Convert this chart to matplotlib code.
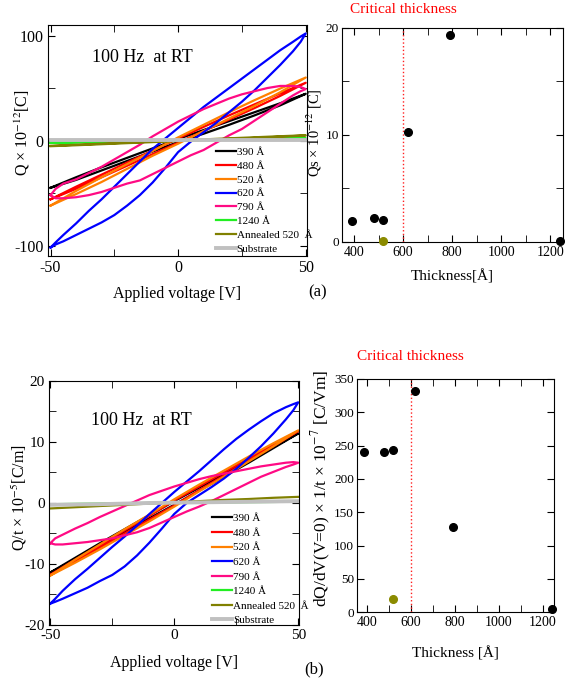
import matplotlib
matplotlib.use('Agg')
import matplotlib.pyplot as plt
from matplotlib.ticker import MultipleLocator

plt.rcParams['font.family'] = ['Liberation Serif', 'DejaVu Serif']
plt.rcParams['mathtext.fontset'] = 'stix'
plt.rcParams['axes.unicode_minus'] = False

# ---- data ----
labels = ['390 Å', '480 Å', '520 Å', '620 Å', '790 Å', '1240 Å', 'Annealed 520  Å', 'Substrate']
colors = ['#000000', '#ff0000', '#ff8000', '#0000ff', '#ff0a84', '#22ee22', '#808000', '#c0c0c0']

V = [-50, -40, -30, -20, -10, 0, 10, 20, 30, 40, 50]
Vf = [-50, -48, -45, -40, -35, -30, -25, -20, -15, -10, -5, 0, 5, 10, 15, 20, 25, 30, 35, 40, 45, 48, 50]

# (a) Q x 1e-12 [C], upper and lower branches
qa_390_up = [-45, -35, -25.5, -16.5, -7.5, 1.5, 10, 18.5, 27, 35.5, 44.5]
qa_390_lo = [-45, -37.5, -28.5, -19.5, -10.5, -1.5, 6.5, 15, 24, 33.5, 44.5]
qa_480_up = [-56, -44, -32.5, -21, -9.5, 2, 13, 24, 34.5, 45, 55]
qa_480_lo = [-56, -46, -35, -24, -13, -2, 9, 20, 31, 42.5, 55]
qa_520_up = [-62, -48, -35, -22.5, -10, 3, 15, 27, 38.5, 49.5, 60]
qa_520_lo = [-62, -51, -39.5, -27, -14.5, -3, 9, 21, 33, 46, 60]
qa_620_up = [-102, -97, -90, -79, -67, -56, -44, -32, -20, -8, 2, 12, 22, 32, 41, 50, 59, 68, 77, 86, 94, 99, 102]
qa_620_lo = [-102, -99, -96, -90, -84, -78, -71, -62, -52, -40, -26, -11, -1, 8, 17, 27, 37, 48, 60, 72, 85, 94, 102]
qa_790_up = [-52, -46, -41, -37, -31, -25, -18, -11, -4, 4, 11, 18, 24, 30, 35, 40, 44, 47, 50, 52, 52, 51, 49]
qa_790_lo = [-52, -55, -55, -54, -52, -49, -45, -41, -38, -32, -26, -20, -14, -9, -2, 5, 11, 19, 27, 35, 43, 47, 49]
qa_1240_up = [-2.0, -1.6, -1.1, -0.7, -0.2, 0.3, 0.7, 1.1, 1.5, 1.9, 2.2]
qa_1240_lo = [-2.2, -1.8, -1.4, -0.9, -0.5, 0.0, 0.4, 0.8, 1.2, 1.7, 2.2]
qa_ann_up = [-5.0, -4.0, -3.0, -2.0, -1.0, 0.1, 1.1, 2.1, 3.1, 4.1, 5.0]
qa_ann_lo = [-5.4, -4.5, -3.5, -2.5, -1.5, -0.5, 0.5, 1.5, 2.5, 3.6, 4.8]
qa_sub = [0.3, 0.3, 0.3, 0.3, 0.3, 0.3, 0.3, 0.3, 0.3, 0.3, 0.3]

# (b) Q/t x 1e-5 [C/m]
qb_390_up = [-11.4, -9.0, -6.6, -4.3, -2.0, 0.3, 2.5, 4.7, 7.0, 9.2, 11.4]
qb_390_lo = [-11.4, -9.3, -7.0, -4.7, -2.5, -0.3, 2.0, 4.3, 6.6, 9.0, 11.4]
qb_480_up = [-11.8, -9.3, -6.9, -4.5, -2.1, 0.4, 2.7, 5.0, 7.3, 9.6, 11.8]
qb_480_lo = [-11.8, -9.6, -7.3, -5.0, -2.7, -0.4, 2.1, 4.5, 6.9, 9.3, 11.8]
qb_520_up = [-11.9, -9.3, -6.8, -4.3, -1.9, 0.6, 3.0, 5.3, 7.6, 9.8, 11.9]
qb_520_lo = [-11.9, -9.8, -7.6, -5.3, -3.0, -0.6, 1.9, 4.3, 6.8, 9.3, 11.9]
qb_620_up = [-16.5, -15.7, -14.4, -12.5, -10.8, -9.0, -7.2, -5.5, -3.7, -1.8, 0.0, 1.8, 3.5, 5.2, 7.0, 8.8, 10.5, 12.0, 13.4, 14.7, 15.7, 16.2, 16.5]
qb_620_lo = [-16.5, -16.2, -15.7, -14.8, -13.9, -12.8, -11.8, -10.4, -8.6, -6.5, -4.2, -1.8, 0.0, 1.3, 2.6, 4.0, 5.6, 7.4, 9.3, 11.4, 13.7, 15.2, 16.5]
qb_790_up = [-6.6, -5.8, -5.2, -4.2, -3.3, -2.3, -1.4, -0.5, 0.4, 1.3, 2.0, 2.7, 3.3, 3.9, 4.4, 4.8, 5.2, 5.6, 6.0, 6.3, 6.6, 6.7, 6.6]
qb_790_lo = [-6.6, -6.8, -6.8, -6.6, -6.4, -6.1, -5.8, -5.3, -4.8, -4.1, -3.2, -2.3, -1.4, -0.6, 0.3, 1.3, 2.3, 3.3, 4.3, 5.1, 5.9, 6.3, 6.6]
qb_1240 = [-0.2, -0.15, -0.1, -0.05, 0.0, 0.02, 0.06, 0.1, 0.14, 0.17, 0.2]
qb_ann = [-0.9, -0.7, -0.5, -0.3, -0.1, 0.1, 0.3, 0.5, 0.65, 0.85, 1.0]
qb_sub = [-0.3, -0.25, -0.2, -0.1, 0.0, 0.05, 0.1, 0.15, 0.2, 0.25, 0.3]

# thickness dependence
thick = [390, 480, 520, 620, 790, 1240]
qs = [2.0, 2.2, 2.1, 10.3, 19.3, 0.05]
dqdv = [240, 241, 243, 332, 128, 5]
ann_thick = [520]
ann_qs = [0.05]
ann_dqdv = [20]
crit = 600

fig = plt.figure(figsize=(5.76, 6.82), dpi=100)


def style(ax, xmaj, xmin, ymaj, ymin, size):
    ax.xaxis.set_major_locator(MultipleLocator(xmaj))
    ax.xaxis.set_minor_locator(MultipleLocator(xmin))
    ax.yaxis.set_major_locator(MultipleLocator(ymaj))
    ax.yaxis.set_minor_locator(MultipleLocator(ymin))
    ax.tick_params(which='both', direction='in', top=True, right=True, labelsize=size, pad=3)
    ax.tick_params(which='major', length=5)
    ax.tick_params(which='minor', length=5)


def loop(ax, v, up, lo, c, lab, lw=1.6):
    ax.plot(list(v) + list(v)[::-1], list(up) + list(lo)[::-1], color=c, lw=lw, label=lab)


# ---------- (a) left ----------
ax1 = fig.add_axes([0.0833, 0.6246, 0.4497, 0.3387])
loop(ax1, V, qa_390_up, qa_390_lo, colors[0], labels[0])
loop(ax1, V, qa_480_up, qa_480_lo, colors[1], labels[1])
loop(ax1, V, qa_520_up, qa_520_lo, colors[2], labels[2])
loop(ax1, Vf, qa_620_up, qa_620_lo, colors[3], labels[3])
loop(ax1, Vf, qa_790_up, qa_790_lo, colors[4], labels[4])
loop(ax1, V, qa_1240_up, qa_1240_lo, colors[5], labels[5])
loop(ax1, V, qa_ann_up, qa_ann_lo, colors[6], labels[6])
ax1.plot(V, qa_sub, color=colors[7], lw=2.8, label=labels[7])
ax1.set_xlim(-51, 50.5)
ax1.set_ylim(-110, 110)
style(ax1, 50, 25, 100, 50, 11.5)
ax1.set_xlabel('Applied voltage [V]', fontsize=11.5, labelpad=7)
ax1.set_ylabel('Q × 10$^{-12}$[C]', fontsize=11.5)
ax1.yaxis.set_label_coords(-0.06, 0.535)
ax1.text(0.17, 0.86, '100 Hz  at RT', transform=ax1.transAxes, fontsize=13, va='center')
ax1.legend(loc='upper left', bbox_to_anchor=(0.63, 0.49), frameon=False, fontsize=8,
           handlelength=1.8, handletextpad=0.1, labelspacing=0.36, borderaxespad=0)

# ---------- (a) right ----------
ax2 = fig.add_axes([0.5932, 0.6452, 0.3837, 0.3138])
ax2.axvline(crit, color='#ff2020', ls=':', lw=1.0)
ax2.plot(thick, qs, 'o', color='black', ms=5.5, clip_on=False, zorder=3)
ax2.plot(ann_thick, ann_qs, 'o', color='#8b8b00', ms=5.5, clip_on=False, zorder=3)
ax2.set_xlim(350, 1250)
ax2.set_ylim(0, 20)
style(ax2, 200, 100, 10, 5, 10)
ax2.tick_params(axis='y', labelsize=9.5, pad=2)
ax2.set_xlabel('Thickness[Å]', fontsize=11, labelpad=7)
ax2.set_ylabel('Qs × 10$^{-12}$ [C]', fontsize=10.5)
ax2.yaxis.set_label_coords(-0.08, 0.51)
ax2.text(crit, 21.7, 'Critical thickness', color='red', fontsize=11, ha='center', va='center')
fig.text(0.535, 0.572, '(a)', fontsize=12, ha='left', va='center')

# ---------- (b) left ----------
ax3 = fig.add_axes([0.0851, 0.0836, 0.434, 0.3578])
loop(ax3, V, qb_390_up, qb_390_lo, colors[0], labels[0])
loop(ax3, V, qb_480_up, qb_480_lo, colors[1], labels[1])
loop(ax3, V, qb_520_up, qb_520_lo, colors[2], labels[2])
loop(ax3, Vf, qb_620_up, qb_620_lo, colors[3], labels[3])
loop(ax3, Vf, qb_790_up, qb_790_lo, colors[4], labels[4])
ax3.plot(V, qb_1240, color=colors[5], lw=1.6, label=labels[5])
ax3.plot(V, qb_ann, color=colors[6], lw=1.6, label=labels[6])
ax3.plot(V, qb_sub, color=colors[7], lw=2.8, label=labels[7])
ax3.set_xlim(-50.5, 50.3)
ax3.set_ylim(-20, 20)
style(ax3, 50, 25, 10, 5, 11)
ax3.set_xlabel('Applied voltage [V]', fontsize=11.5, labelpad=9)
ax3.set_ylabel('Q/t × 10$^{-5}$[C/m]', fontsize=11.5)
ax3.yaxis.set_label_coords(-0.08, 0.52)
ax3.text(0.168, 0.84, '100 Hz  at RT', transform=ax3.transAxes, fontsize=13, va='center')
ax3.legend(loc='upper left', bbox_to_anchor=(0.635, 0.475), frameon=False, fontsize=8,
           handlelength=1.8, handletextpad=0.1, labelspacing=0.43, borderaxespad=0)

# ---------- (b) right ----------
ax4 = fig.add_axes([0.6193, 0.1022, 0.3425, 0.3421])
ax4.axvline(crit, color='#ff2020', ls=':', lw=1.0)
ax4.plot(thick, dqdv, 'o', color='black', ms=5.5, clip_on=False, zorder=3)
ax4.plot(ann_thick, ann_dqdv, 'o', color='#8b8b00', ms=5.5, clip_on=False, zorder=3)
ax4.set_xlim(355, 1250)
ax4.set_ylim(0, 350)
style(ax4, 200, 100, 50, 50, 10)
ax4.tick_params(axis='y', labelsize=9.5, pad=2)
ax4.set_xlabel('Thickness [Å]', fontsize=11, labelpad=12)
ax4.set_ylabel('dQ/dV(V=0) × 1/t × 10$^{-7}$ [C/Vm]', fontsize=12.5)
ax4.yaxis.set_label_coords(-0.12, 0.53)
ax4.text(crit, 383, 'Critical thickness', color='red', fontsize=11, ha='center', va='center')
fig.text(0.528, 0.018, '(b)', fontsize=12, ha='left', va='center')

fig.savefig('out.png', dpi=100)
